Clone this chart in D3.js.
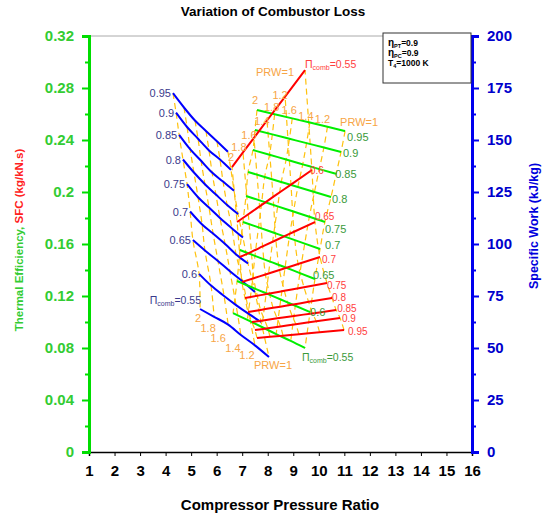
<!DOCTYPE html>
<meta charset="utf-8">
<script src="https://d3js.org/d3.v7.min.js"></script>
<style>
body { margin: 0; background: #fff; }
svg text { font-family: "Liberation Sans", Arial, sans-serif; }
</style>
<body>
<div id="chart"></div>
<script>

// combustor pressure loss factor (one solid line each), top to bottom
var piComb = [0.95, 0.9, 0.85, 0.8, 0.75, 0.7, 0.65, 0.6, 0.55];
// PRW values along every solid line, left to right
var prwVals = [2, 1.8, 1.6, 1.4, 1.2, 1];

// SFC family (blue, left axis)
var sfcX = [
  [4.29, 4.72, 5.15, 5.58, 6.01, 6.44],
  [4.41, 4.84, 5.27, 5.70, 6.13, 6.56],
  [4.53, 4.96, 5.39, 5.82, 6.25, 6.68],
  [4.68, 5.11, 5.54, 5.97, 6.41, 6.84],
  [4.84, 5.27, 5.70, 6.13, 6.60, 7.03],
  [4.96, 5.43, 5.86, 6.33, 6.76, 7.23],
  [5.07, 5.54, 6.05, 6.52, 7.03, 7.50],
  [5.31, 5.78, 6.29, 6.76, 7.27, 7.74],
  [5.35, 5.90, 6.45, 6.95, 7.50, 8.05]
];
var sfcY = [
  [0.276, 0.265, 0.255, 0.247, 0.239, 0.231],
  [0.261, 0.250, 0.241, 0.232, 0.225, 0.217],
  [0.244, 0.233, 0.224, 0.215, 0.208, 0.201],
  [0.225, 0.215, 0.206, 0.198, 0.190, 0.183],
  [0.206, 0.196, 0.188, 0.180, 0.172, 0.165],
  [0.185, 0.175, 0.168, 0.160, 0.152, 0.145],
  [0.163, 0.155, 0.147, 0.139, 0.131, 0.123],
  [0.137, 0.128, 0.120, 0.113, 0.106, 0.100],
  [0.110, 0.104, 0.098, 0.090, 0.082, 0.073]
];

// specific work family (green, right axis)
var workX = [
  [7.58, 8.27, 8.96, 9.65, 10.34, 11.03],
  [7.50, 8.18, 8.85, 9.52, 10.20, 10.87],
  [7.42, 8.07, 8.72, 9.37, 10.02, 10.68],
  [7.23, 7.88, 8.53, 9.18, 9.83, 10.48],
  [7.15, 7.77, 8.39, 9.01, 9.63, 10.24],
  [7.03, 7.64, 8.24, 8.84, 9.45, 10.05],
  [6.91, 7.50, 8.09, 8.68, 9.26, 9.85],
  [6.80, 7.37, 7.94, 8.51, 9.08, 9.66],
  [6.64, 7.20, 7.77, 8.33, 8.90, 9.46]
];
var workY = [
  [164.4, 162.4, 160.4, 158.4, 156.4, 154.3],
  [154.8, 152.7, 150.6, 148.5, 146.4, 144.2],
  [145.2, 142.9, 140.6, 138.3, 136.0, 133.7],
  [134.6, 132.2, 129.8, 127.4, 125.0, 122.6],
  [123.1, 120.6, 118.1, 115.6, 113.1, 110.6],
  [110.6, 108.0, 105.4, 102.8, 100.2, 97.6],
  [97.1, 94.3, 91.5, 88.8, 86.0, 83.2],
  [82.2, 79.2, 76.3, 73.3, 70.3, 67.3],
  [66.8, 63.5, 60.1, 56.7, 53.4, 50.0]
];

// thermal efficiency family (red, left axis)
var effX = [
  [7.58, 8.09, 8.60, 9.22, 10.03, 10.99],
  [7.50, 8.00, 8.50, 9.10, 9.90, 10.83],
  [7.38, 7.88, 8.37, 8.96, 9.75, 10.68],
  [7.23, 7.72, 8.21, 8.81, 9.60, 10.52],
  [7.11, 7.59, 8.07, 8.65, 9.42, 10.32],
  [6.99, 7.45, 7.91, 8.46, 9.19, 10.05],
  [6.91, 7.36, 7.80, 8.32, 9.03, 9.85],
  [6.80, 7.24, 7.68, 8.21, 8.91, 9.73],
  [6.60, 7.03, 7.46, 7.97, 8.68, 9.46]
];
var effY = [
  [0.0877, 0.0886, 0.0895, 0.0906, 0.0922, 0.0938],
  [0.0938, 0.0952, 0.0966, 0.0983, 0.1005, 0.1031],
  [0.1000, 0.1014, 0.1028, 0.1045, 0.1066, 0.1092],
  [0.1077, 0.1093, 0.1109, 0.1128, 0.1155, 0.1185],
  [0.1185, 0.1202, 0.1219, 0.1240, 0.1268, 0.1300],
  [0.1308, 0.1337, 0.1365, 0.1400, 0.1446, 0.1500],
  [0.1500, 0.1540, 0.1581, 0.1629, 0.1694, 0.1769],
  [0.1769, 0.1829, 0.1889, 0.1962, 0.2057, 0.2169],
  [0.2192, 0.2305, 0.2417, 0.2550, 0.2734, 0.2938]
];

// tick labels
var xTicks = d3.range(1, 17);
var yLeftTicks = [0, 0.04, 0.08, 0.12, 0.16, 0.2, 0.24, 0.28, 0.32];
var yRightTicks = [0, 25, 50, 75, 100, 125, 150, 175, 200];
var infoLines = [["η", "PT", "=0.9"], ["η", "PC", "=0.9"], ["T", "4", "=1000 K"]];

// set the dimensions and margins of the graph
var margin = {top: 36, right: 74, bottom: 64, left: 89},
    width = 546 - margin.left - margin.right,
    height = 516 - margin.top - margin.bottom;

var root = d3.select("#chart")
  .append("svg")
    .attr("width", 546)
    .attr("height", 516);
var svg = root.append("g")
    .attr("transform", "translate(" + margin.left + "," + margin.top + ")");

var x = d3.scaleLinear().domain([1, 16]).range([0, width]);
var yL = d3.scaleLinear().domain([0, 0.32]).range([height, 0]);
var yR = d3.scaleLinear().domain([0, 200]).range([height, 0]);

// label nudges (pixels) for the Pi value of each line
var fam = [
  {xs: sfcX, ys: sfcY, y: yL, color: "#0000ff", lbl: "#3a3a8c", anchor: "end",
   nudge: [[-2,0],[-2,0],[-2,0],[-2,0],[-2,0],[-2,0],[-2,0],[-2,0],[1,-9]]},
  {xs: workX, ys: workY, y: yR, color: "#00ee00", lbl: "#3a9a3a", anchor: "start",
   nudge: [[2,6],[2,1],[-1,0],[1,2],[0,7],[5,-4],[-2,-4],[0,0],[-3,9]]},
  {xs: effX, ys: effY, y: yL, color: "#ff0000", lbl: "#ff4040", anchor: "start",
   nudge: [[4,1],[2,1],[1,-2],[0,0],[0,2],[2,2],[0,-6],[-2,0],[0,-6]]}
];
fam.forEach(function(f) {
  f.pts = f.xs.map(function(row, i) {
    return row.map(function(v, j) { return [x(v), f.y(f.ys[i][j])]; });
  });
});

// top frame line
svg.append("line").attr("x1", 0).attr("x2", width).attr("y1", 0).attr("y2", 0)
  .attr("stroke", "#aaa").attr("stroke-width", 1);

// dashed constant-PRW lines
var dashLine = d3.line().curve(d3.curveCatmullRom);
fam.forEach(function(f) {
  prwVals.forEach(function(p, j) {
    svg.append("path")
      .attr("d", dashLine(f.pts.map(function(row) { return row[j]; })))
      .attr("fill", "none")
      .attr("stroke", "#ffc20e")
      .attr("stroke-width", 1.2)
      .attr("stroke-dasharray", "6,4");
  });
});

// solid constant-Pi lines
var solidLine = d3.line().curve(d3.curveMonotoneX);
fam.forEach(function(f) {
  f.pts.forEach(function(row) {
    svg.append("path")
      .attr("d", solidLine(row))
      .attr("fill", "none")
      .attr("stroke", f.color)
      .attr("stroke-width", 2);
  });
});

function piLabel(px, py, anchor, color) {
  var t = svg.append("text").attr("x", px).attr("y", py)
    .attr("text-anchor", anchor).attr("dominant-baseline", "central")
    .attr("font-size", 10.5).attr("fill", color);
  t.append("tspan").text("Π");
  t.append("tspan").attr("font-size", 7).attr("dy", 3).text("comb");
  t.append("tspan").attr("dy", -3).text("=0.55");
}

// Pi labels
fam.forEach(function(f, k) {
  f.pts.forEach(function(row, i) {
    var p = k === 0 ? row[0] : row[row.length - 1];
    var n = f.nudge[i];
    if (i === piComb.length - 1) { piLabel(p[0] + n[0], p[1] + n[1], f.anchor, f.lbl); return; }
    svg.append("text").attr("x", p[0] + n[0]).attr("y", p[1] + n[1])
      .attr("text-anchor", f.anchor).attr("dominant-baseline", "central")
      .attr("font-size", k === 2 ? 10 : 11).attr("fill", f.lbl)
      .text(piComb[i]);
  });
});

// PRW labels
var prwColor = "#f7a545";
var prwOff = [
  {row: 8, off: [[-2, 9], [-6, 11], [-10, 13], [-8, 13], [-8, 10], [4, 8]]},
  {row: 0, off: [[-2, -10], [-3, -7], [-3, -8], [-4, -7], [-5, -8], [14, -9]]},
  {row: 8, off: [[-1, -10], [-4, -5], [-5, -3], [-5, 0], [-5, -2], [-30, 2]]}
];
fam.forEach(function(f, k) {
  var o = prwOff[k];
  prwVals.forEach(function(v, j) {
    var p = f.pts[o.row][j];
    svg.append("text").attr("x", p[0] + o.off[j][0]).attr("y", p[1] + o.off[j][1])
      .attr("text-anchor", "middle").attr("dominant-baseline", "central")
      .attr("font-size", 11).attr("fill", prwColor)
      .text(v === 1 ? "PRW=1" : v);
  });
});

// bottom axis
var xAxis = svg.append("g")
  .attr("transform", "translate(0," + height + ")")
  .call(d3.axisBottom(x).tickValues(xTicks).tickFormat(d3.format("d")).tickSize(4));
xAxis.select(".domain").attr("stroke", "#000").attr("stroke-width", 1.5);
xAxis.selectAll("text").attr("font-size", 15).attr("font-weight", "bold").attr("fill", "#000").attr("dy", "1.1em");

// left axis (green)
var yAxisL = svg.append("g")
  .call(d3.axisLeft(yL).tickValues(yLeftTicks).tickFormat(function(d) { return d3.format("")(+d.toFixed(2)); }).tickSize(7).tickPadding(8));
yAxisL.select(".domain").attr("stroke", "#00dd00").attr("stroke-width", 3);
yAxisL.selectAll(".tick line").attr("stroke", "#00dd00").attr("stroke-width", 2);
yAxisL.selectAll("text").attr("font-size", 15).attr("font-weight", "bold").attr("fill", "#33cc33");
svg.append("g")
  .call(d3.axisLeft(yL).tickValues(d3.range(0.02, 0.32, 0.04)).tickFormat("").tickSize(4))
  .call(function(g) { g.select(".domain").remove(); g.selectAll("line").attr("stroke", "#00dd00").attr("stroke-width", 2); });

// right axis (blue)
var yAxisR = svg.append("g")
  .attr("transform", "translate(" + width + ",0)")
  .call(d3.axisRight(yR).tickValues(yRightTicks).tickSize(7).tickPadding(8));
yAxisR.select(".domain").attr("stroke", "#0000ee").attr("stroke-width", 3);
yAxisR.selectAll(".tick line").attr("stroke", "#0000ee").attr("stroke-width", 2);
yAxisR.selectAll("text").attr("font-size", 15).attr("font-weight", "bold").attr("fill", "#0000cc");
svg.append("g")
  .attr("transform", "translate(" + width + ",0)")
  .call(d3.axisRight(yR).tickValues(d3.range(12.5, 200, 25)).tickFormat("").tickSize(4))
  .call(function(g) { g.select(".domain").remove(); g.selectAll("line").attr("stroke", "#0000ee").attr("stroke-width", 2); });

// info box
var box = svg.append("g").attr("transform", "translate(" + (width - 89) + ",-3)");
box.append("rect").attr("width", 88).attr("height", 50)
  .attr("fill", "#fff").attr("stroke", "#333").attr("stroke-width", 1);
infoLines.forEach(function(l, i) {
  var t = box.append("text").attr("x", 5).attr("y", 13 + i * 10)
    .attr("font-size", 8.5).attr("font-weight", "bold").attr("fill", "#000");
  t.append("tspan").attr("font-size", l[0] === "η" ? 10 : 8.5).text(l[0]);
  t.append("tspan").attr("font-size", 5.5).attr("dy", 1.5).text(l[1]);
  t.append("tspan").attr("dy", -1.5).text(l[2]);
});

// titles
root.append("text").attr("x", 273).attr("y", 16).attr("text-anchor", "middle")
  .attr("font-size", 13.5).attr("font-weight", "bold").text("Variation of Combustor Loss");
root.append("text").attr("x", 280).attr("y", 510).attr("text-anchor", "middle")
  .attr("font-size", 15).attr("font-weight", "bold").text("Compressor Pressure Ratio");
var lt = root.append("text")
  .attr("transform", "translate(23,240)rotate(-90)")
  .attr("text-anchor", "middle").attr("font-size", 11.5).attr("font-weight", "bold");
lt.append("tspan").attr("fill", "#33cc33").text("Thermal Efficiency, ");
lt.append("tspan").attr("fill", "#ff2020").text("SFC (kg/kN.s)");
root.append("text")
  .attr("transform", "translate(538,226)rotate(-90)")
  .attr("text-anchor", "middle").attr("font-size", 12.5).attr("font-weight", "bold")
  .attr("fill", "#0000dd").text("Specific Work (kJ/kg)");

</script>
</body>
